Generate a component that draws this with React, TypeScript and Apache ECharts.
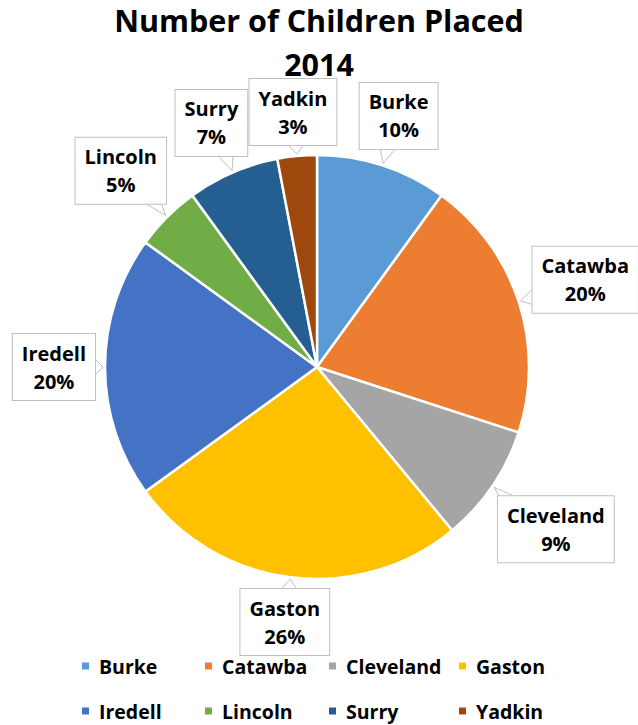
import React, { useEffect, useRef } from "react";
import * as echarts from "echarts";

const categories = ["Burke", "Catawba", "Cleveland", "Gaston", "Iredell", "Lincoln", "Surry", "Yadkin"];
const percents = [10, 20, 9, 26, 20, 5, 7, 3];
const colors = ["#5B9BD5", "#ED7D31", "#A5A5A5", "#FFC000", "#4472C4", "#70AD47", "#255E91", "#9E480E"];
const titleLine1 = "Number of Children Placed";
const titleLine2 = "2014";
const legendLefts = [80, 203, 327, 457];
const legendRowTops = [656, 701];

const CX = 317;
const CY = 367;
const R = 212;
const BOX_GAP = 9;
const FONT = "'Open Sans', Lato, sans-serif";

export default function App() {
  const ref = useRef<HTMLDivElement>(null);
  useEffect(() => {
    if (!ref.current) return;
    const chart = echarts.init(ref.current, null, { renderer: "svg" });
    const total = percents.reduce((a, b) => a + b, 0);
    const midDir = (idx: number) => {
      let before = 0;
      for (let i = 0; i < idx; i++) before += percents[i];
      const frac = (before + percents[idx] / 2) / total;
      const ang = frac * Math.PI * 2;
      return [Math.sin(ang), -Math.cos(ang)];
    };
    const boxDist = (t: number, ux: number, uy: number, hw: number, hh: number) => {
      const ex = Math.max(0, Math.abs(t * ux) - hw);
      const ey = Math.max(0, Math.abs(t * uy) - hh);
      return Math.hypot(ex, ey);
    };
    const titleStyle = { fontFamily: FONT, fontSize: 30.5, fontWeight: "bold", color: "#000", lineHeight: 36 };
    chart.setOption({
      animation: false,
      color: colors,
      title: {
        text: titleLine1,
        subtext: titleLine2,
        left: "center",
        top: 2,
        padding: 0,
        itemGap: 8,
        textStyle: titleStyle,
        subtextStyle: titleStyle,
      },
      legend: categories.map((c, i) => ({
        data: [c],
        left: legendLefts[i % 4],
        top: legendRowTops[Math.floor(i / 4)],
        padding: 0,
        orient: "horizontal",
        icon: "rect",
        itemWidth: 9,
        itemHeight: 9,
        selectedMode: false,
        textStyle: {
          fontFamily: FONT,
          fontSize: 19.5,
          fontWeight: "bold",
          color: "#000",
          lineHeight: 18,
          padding: [0, 0, 0, 4],
        },
      })),
      series: [
        {
          type: "pie",
          center: [CX, CY],
          radius: R,
          startAngle: 90,
          clockwise: true,
          avoidLabelOverlap: false,
          itemStyle: { borderColor: "#fff", borderWidth: 2.5 },
          data: categories.map((c, i) => ({ name: c, value: percents[i] })),
          label: {
            show: true,
            position: "outside",
            formatter: (p: any) => `${p.name}\n${p.value}%`,
            fontFamily: FONT,
            fontSize: 20,
            fontWeight: "bold",
            color: "#000",
            lineHeight: 28,
            backgroundColor: "#fff",
            borderColor: "#bfbfbf",
            borderWidth: 1,
            padding: [5, 9],
            align: "center",
          },
          labelLine: {
            show: true,
            length: 20,
            length2: 0,
            lineStyle: { color: "#bfbfbf", width: 1 },
          },
          labelLayout: (params: any) => {
            const [ux, uy] = midDir(params.dataIndex);
            const hw = params.labelRect.width / 2;
            const hh = params.labelRect.height / 2;
            const target = R + BOX_GAP;
            let lo = 0;
            let hi = 600;
            for (let k = 0; k < 60; k++) {
              const mid = (lo + hi) / 2;
              if (boxDist(mid, ux, uy, hw, hh) < target) lo = mid;
              else hi = mid;
            }
            const cx = CX + ux * lo;
            const cy = CY + uy * lo;
            const tx = CX + ux * (R + 2);
            const ty = CY + uy * (R + 2);
            const dx = tx - cx;
            const dy = ty - cy;
            const sx = Math.abs(dx) > 1e-6 ? hw / Math.abs(dx) : Infinity;
            const sy = Math.abs(dy) > 1e-6 ? hh / Math.abs(dy) : Infinity;
            const s = Math.min(sx, sy);
            const ex = cx + dx * s;
            const ey = cy + dy * s;
            const half = 7;
            let a: number[];
            let b: number[];
            if (sx < sy) {
              const y0 = Math.max(cy - hh, Math.min(cy + hh - 2 * half, ey - half));
              a = [ex, y0];
              b = [ex, y0 + 2 * half];
            } else {
              const x0 = Math.max(cx - hw, Math.min(cx + hw - 2 * half, ex - half));
              a = [x0, ey];
              b = [x0 + 2 * half, ey];
            }
            return {
              x: cx,
              y: cy,
              align: "center",
              verticalAlign: "middle",
              labelLinePoints: [a, [tx, ty], b],
            };
          },
          emphasis: { disabled: true },
        },
      ],
    });
    return () => chart.dispose();
  }, []);
  return <div ref={ref} style={{ position: "absolute", left: 0, top: 0, width: 638, height: 725 }} />;
}
